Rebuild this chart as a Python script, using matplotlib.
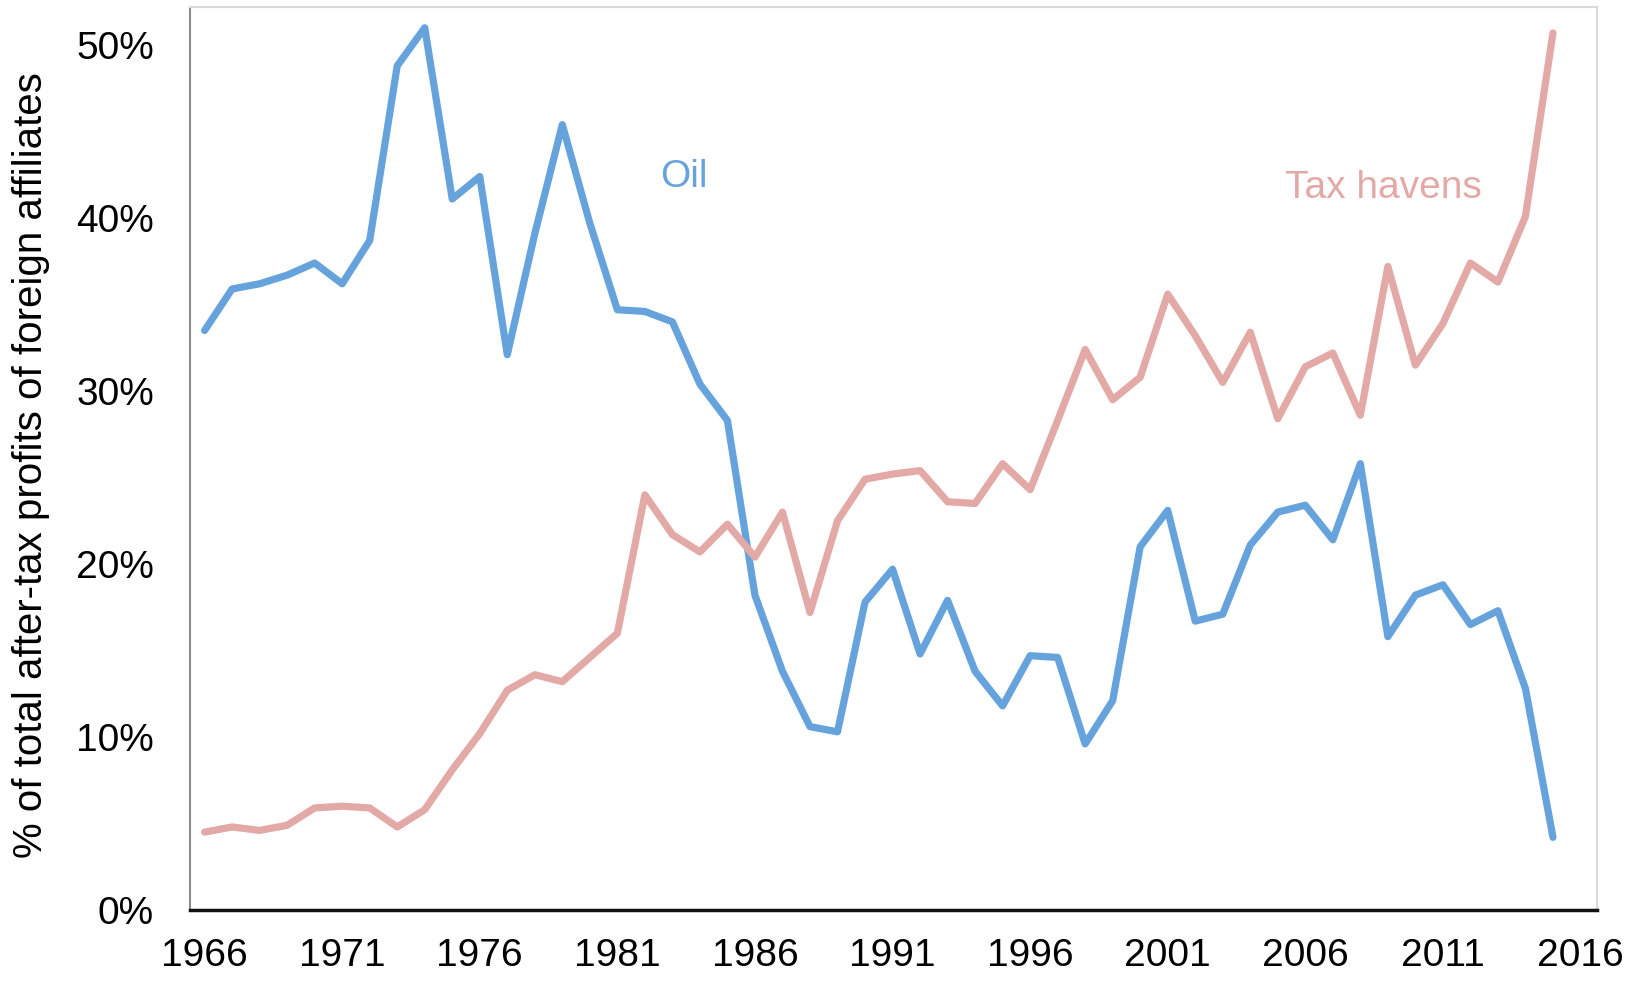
import matplotlib
matplotlib.use("Agg")
import matplotlib.pyplot as plt
from matplotlib.ticker import FuncFormatter

years = list(range(1966, 2016))
oil = [33.5, 35.9, 36.2, 36.7, 37.4, 36.2, 38.7, 48.8, 51.0, 41.1,
       42.4, 32.1, 39.1, 45.4, 39.7, 34.7, 34.6, 34.0, 30.4, 28.3,
       18.2, 13.8, 10.6, 10.3, 17.8, 19.7, 14.8, 17.9, 13.8, 11.8,
       14.7, 14.6, 9.6, 12.1, 21.0, 23.1, 16.7, 17.1, 21.1, 23.0,
       23.4, 21.4, 25.8, 15.8, 18.2, 18.8, 16.5, 17.3, 12.8, 4.2]
tax_havens = [4.5, 4.8, 4.6, 4.9, 5.9, 6.0, 5.9, 4.8, 5.8, 8.1,
              10.2, 12.7, 13.6, 13.2, 14.6, 16.0, 24.0, 21.7, 20.7, 22.3,
              20.4, 23.0, 17.2, 22.5, 24.9, 25.2, 25.4, 23.6, 23.5, 25.8,
              24.3, 28.3, 32.4, 29.5, 30.8, 35.6, 33.2, 30.5, 33.4, 28.4,
              31.4, 32.2, 28.6, 37.2, 31.5, 33.9, 37.4, 36.3, 40.1, 50.7]
x_ticks = list(range(1966, 2017, 5))
y_ticks = [0, 10, 20, 30, 40, 50]

plt.rcParams['font.family'] = ['Liberation Sans', 'DejaVu Sans']

fig = plt.figure(figsize=(16.36, 9.82), dpi=100)
ax = fig.add_axes([190/1636, 1 - 910/982, (1597-190)/1636, (910-7)/982])

oil_c = '#66A3DD'
tax_c = '#E2A9A6'
ax.plot(years, oil, color=oil_c, lw=5.2, solid_joinstyle='round', solid_capstyle='round')
ax.plot(years, tax_havens, color=tax_c, lw=5.2, solid_joinstyle='round', solid_capstyle='round')

ax.set_xlim(1965.47, 2016.6)
ax.set_ylim(0, 52.2)
ax.set_xticks(x_ticks)
ax.set_yticks(y_ticks)
ax.yaxis.set_major_formatter(FuncFormatter(lambda v, p: f"{int(v)}%"))
ax.tick_params(axis='both', length=0, labelsize=28)
ax.tick_params(axis='x', pad=20)
ax.tick_params(axis='y', pad=26)

ax.spines['left'].set_color('#8c8c8c')
ax.spines['left'].set_linewidth(1.5)
ax.spines['bottom'].set_color('#111111')
ax.spines['bottom'].set_linewidth(2.5)
ax.spines['top'].set_color('#d9d9d9')
ax.spines['top'].set_linewidth(1.5)
ax.spines['right'].set_color('#d9d9d9')
ax.spines['right'].set_linewidth(1.5)

ax.set_ylabel('% of total after-tax profits of foreign affiliates', fontsize=29, va='center')
ax.yaxis.set_label_coords(-0.113, 0.493)

ax.text(1983.4, 42.35, 'Oil', color=oil_c, fontsize=28, ha='center', va='center')
ax.text(2008.85, 41.75, 'Tax havens', color=tax_c, fontsize=28, ha='center', va='center')

fig.savefig('out.png', dpi=100)
